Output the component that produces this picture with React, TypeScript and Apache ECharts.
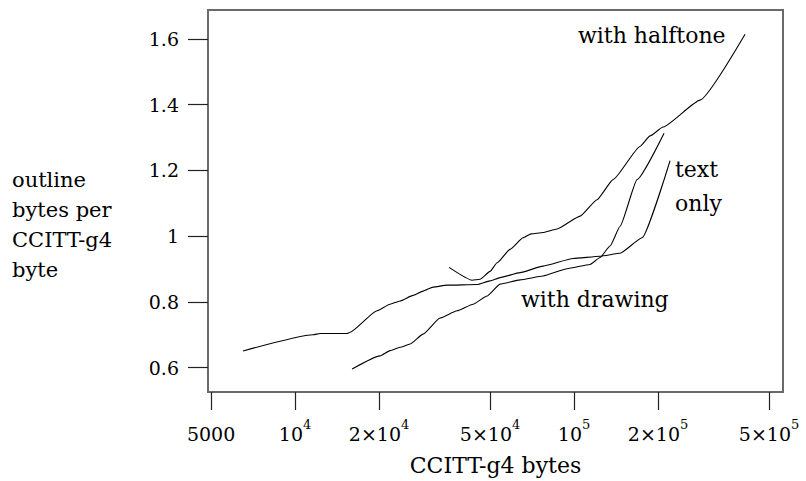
import React, { useEffect, useRef } from "react";
import * as echarts from "echarts";

// ---- data ----
const halftoneX = [35650, 43090, 46040, 50000, 52970, 58960, 65650, 70150, 77440, 86930, 105100, 120900, 138000, 172400, 187300, 208400, 282900, 410200];
const halftoneY = [0.905, 0.866, 0.869, 0.893, 0.919, 0.960, 0.995, 1.007, 1.011, 1.022, 1.061, 1.111, 1.172, 1.273, 1.305, 1.332, 1.414, 1.614];

const textOnlyX = [6510, 11600, 12290, 15360, 15700, 19670, 21900, 23780, 26480, 28760, 31230, 35060, 44910, 50000, 54290, 64050, 77440, 99170, 123950, 146200, 175300, 220900];
const textOnlyY = [0.651, 0.700, 0.704, 0.704, 0.707, 0.773, 0.793, 0.803, 0.820, 0.833, 0.845, 0.851, 0.853, 0.864, 0.874, 0.889, 0.909, 0.932, 0.939, 0.948, 0.995, 1.230];

const drawingX = [16010, 20170, 21900, 23780, 25840, 28760, 33090, 38070, 43450, 48780, 54290, 64050, 77440, 94390, 114100, 123950, 134600, 146200, 168200, 210200];
const drawingY = [0.596, 0.636, 0.652, 0.662, 0.672, 0.702, 0.751, 0.773, 0.793, 0.818, 0.854, 0.867, 0.879, 0.901, 0.914, 0.935, 0.970, 1.030, 1.172, 1.313];

const xTickValues = [5000, 10000, 20000, 50000, 100000, 200000, 500000];
const xTickLabels = ["{b|5000}", "{b|10}{s|4}", "{b|2×10}{s|4}", "{b|5×10}{s|4}", "{b|10}{s|5}", "{b|2×10}{s|5}", "{b|5×10}{s|5}"];
const yTickValues = [0.6, 0.8, 1.0, 1.2, 1.4, 1.6];
const yTickLabels = ["0.6", "0.8", "1", "1.2", "1.4", "1.6"];

const xMin = 4875;
const xMax = 561000;
const yMin = 0.526;
const yMax = 1.688;

const xName = "CCITT-g4 bytes";
const yName = "outline\nbytes per\nCCITT-g4\nbyte";
const curveLabels = ["with halftone", "text\nonly", "with drawing"];

const FONT = "'DejaVu Serif', 'Liberation Serif', serif";

const pairs = (xs: number[], ys: number[]) => xs.map((x, i) => [x, ys[i]]);

export default function App() {
  const ref = useRef<HTMLDivElement>(null);
  useEffect(() => {
    if (!ref.current) return;
    const chart = echarts.init(ref.current, null, { renderer: "svg" });
    const logTicks = xTickValues.map((v) => Math.log10(v));
    const lineStyle = { color: "#000", width: 1.1 };
    const mkSeries = (name: string, xs: number[], ys: number[]) => ({
      name,
      type: "line",
      xAxisIndex: 0,
      yAxisIndex: 0,
      data: pairs(xs, ys),
      showSymbol: false,
      symbol: "none",
      smooth: 0.15,
      smoothMonotone: "x",
      lineStyle,
      silent: true,
    });
    chart.setOption({
      animation: false,
      backgroundColor: "#fff",
      title: {
        text: yName,
        left: 12,
        top: 165,
        padding: 0,
        textStyle: { fontFamily: FONT, fontSize: 21, fontWeight: "normal", color: "#000", lineHeight: 30 },
      },
      grid: {
        left: 208,
        right: 23,
        top: 10,
        bottom: 88,
        show: true,
        borderColor: "#6a6a6a",
        borderWidth: 2,
        backgroundColor: "transparent",
      },
      xAxis: [
        {
          type: "log",
          logBase: 10,
          min: xMin,
          max: xMax,
          axisLine: { show: false },
          axisTick: { show: false },
          axisLabel: { show: false },
          splitLine: { show: false },
        },
        {
          type: "value",
          position: "bottom",
          min: Math.log10(xMin),
          max: Math.log10(xMax),
          axisLine: { show: false },
          axisTick: { show: true, length: 18, customValues: logTicks, lineStyle: { color: "#222", width: 1.2 } },
          axisLabel: {
            customValues: logTicks,
            margin: 26,
            formatter: (v: number) => {
              const i = logTicks.findIndex((t) => Math.abs(t - v) < 1e-6);
              return i >= 0 ? xTickLabels[i] : "";
            },
            rich: {
              b: { fontFamily: FONT, fontSize: 19, color: "#000", lineHeight: 31 },
              s: { fontFamily: FONT, fontSize: 13, color: "#000", lineHeight: 14, verticalAlign: "top" },
            },
          },
          splitLine: { show: false },
          name: xName,
          nameLocation: "middle",
          nameGap: 62,
          nameTextStyle: { fontFamily: FONT, fontSize: 22, color: "#000", verticalAlign: "top" },
        },
      ],
      yAxis: {
        type: "value",
        min: yMin,
        max: yMax,
        axisLine: { show: false },
        axisTick: { show: true, length: 20, customValues: yTickValues, lineStyle: { color: "#222", width: 1.2 } },
        axisLabel: {
          customValues: yTickValues,
          margin: 29,
          fontFamily: FONT,
          fontSize: 19,
          color: "#000",
          formatter: (v: number) => {
            const i = yTickValues.findIndex((t) => Math.abs(t - v) < 1e-6);
            return i >= 0 ? yTickLabels[i] : "";
          },
        },
        splitLine: { show: false },
      },
      graphic: [
        {
          type: "text",
          x: 578,
          y: 35,
          silent: true,
          style: { text: curveLabels[0], fontFamily: FONT, fontSize: 22, fill: "#000", align: "left", verticalAlign: "middle" },
        },
        {
          type: "text",
          x: 675,
          y: 152,
          silent: true,
          style: { text: curveLabels[1], fontFamily: FONT, fontSize: 22, fill: "#000", align: "left", verticalAlign: "top", lineHeight: 34 },
        },
        {
          type: "text",
          x: 521,
          y: 299,
          silent: true,
          style: { text: curveLabels[2], fontFamily: FONT, fontSize: 22, fill: "#000", align: "left", verticalAlign: "middle" },
        },
      ],
      series: [
        mkSeries("with halftone", halftoneX, halftoneY),
        mkSeries("text only", textOnlyX, textOnlyY),
        mkSeries("with drawing", drawingX, drawingY),
      ],
    });
    return () => chart.dispose();
  }, []);
  return (
    <div
      ref={ref}
      style={{ position: "absolute", left: 0, top: 0, width: 806, height: 481, background: "#fff" }}
    />
  );
}
